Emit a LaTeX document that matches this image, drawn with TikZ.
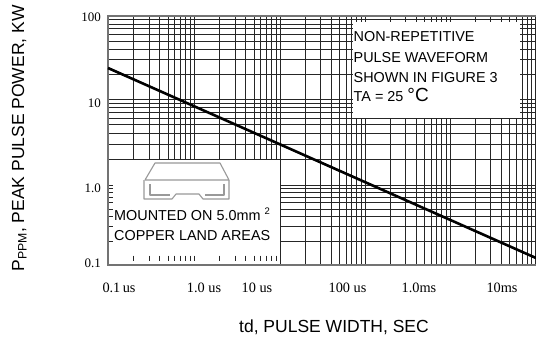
\documentclass[tikz,border=0pt]{standalone}
\usepackage{fontspec}
\setmainfont{Liberation Serif}
\newfontfamily\arialfont{Liberation Sans}
\tikzset{
  gridline/.style={black!85,line width=0.85pt},
  frameline/.style={black!55,line width=1.3pt},
  curveline/.style={black,line width=2.6pt},
  chip/.style={black!40,line width=1.1pt,line join=round},
  ticklabel/.style={font=\fontsize{13}{13}\selectfont,text=black,inner sep=0pt,anchor=east},
  xticklabel/.style={font=\fontsize{14.3}{14.3}\selectfont,text=black,inner sep=0pt,anchor=base},
  notetext/.style={font=\arialfont\fontsize{14.4}{14.4}\selectfont,text=black,inner sep=0pt,anchor=base west},
  axistitle/.style={font=\arialfont\fontsize{17.5}{17.5}\selectfont,text=black,inner sep=0pt,anchor=base}
}
\begin{document}
\begin{tikzpicture}[x=1pt,y=-1pt]
\useasboundingbox (0,0) rectangle (536,338);
\foreach \l/\r in {108/194,194/280,280/365,365/450,450/535.5}
  \foreach \m in {2,...,10}
    \draw[gridline] ({\l+(\r-\l)*ln(\m)/ln(10)},16) -- ({\l+(\r-\l)*ln(\m)/ln(10)},265);
\foreach \t/\b in {16/99,99/185,185/265}
  \foreach \m in {1,...,9}
    \draw[gridline] (108,{\b-(\b-\t)*ln(\m)/ln(10)}) -- (535.5,{\b-(\b-\t)*ln(\m)/ln(10)});
\fill[white] (353,22) rectangle (519.5,117.5);
\fill[white] (108.6,159.6) rectangle (279.6,264.4);
\foreach \m in {2,...,10}
  \draw[gridline] (108,{265-80*ln(\m)/ln(10)}) -- (113,{265-80*ln(\m)/ln(10)});
\foreach \l/\r in {108/194,194/280}
  \foreach \m in {2,...,9}
    \draw[gridline] ({\l+(\r-\l)*ln(\m)/ln(10)},255.5) -- ({\l+(\r-\l)*ln(\m)/ln(10)},260.5);
\draw[gridline] (194,255.5) -- (194,260.5);
\draw[frameline] (535.5,16) -- (108,16) -- (108,265) -- (535.5,265);
\coordinate (pstart) at (108,68);
\coordinate (pend) at (536,258);
\draw[curveline] (pstart) -- (pend);
\draw[chip] (145,180) -- (155,163) -- (220,163) -- (229,180) -- cycle;
\draw[chip] (144,180) -- (144,199) -- (172,199) -- (176,194) -- (199,194) -- (203,199) -- (229,199) -- (229,180);
\draw[chip] (150,184) -- (150,195) -- (170,195);
\draw[chip] (224,184) -- (224,195) -- (205,195);
\node[ticklabel] (y100) at (101,17) {100};
\node[ticklabel] (y10) at (101,103) {10};
\node[ticklabel] (y1) at (101,188) {1.0};
\node[ticklabel] (y01) at (101,263) {0.1};
\node[xticklabel] (x01us) at (119,292) {0.1\,us};
\node[xticklabel] (x1us) at (204,292) {1.0 us};
\node[xticklabel] (x10us) at (257,292) {10 us};
\node[xticklabel] (x100us) at (347.5,292) {100 us};
\node[xticklabel] (x1ms) at (419,292) {1.0ms};
\node[xticklabel] (x10ms) at (502,292) {10ms};
\node[notetext] (wave1) at (353.5,41) {NON-REPETITIVE};
\node[notetext] (wave2) at (353.5,62) {PULSE WAVEFORM};
\node[notetext] (wave3) at (353.5,82) {SHOWN IN FIGURE 3};
\node[notetext] (wave4) at (353.5,101) {TA = 25 {\fontsize{19}{19}\selectfont °C}};
\node[notetext] (mount1) at (114,220) {MOUNTED ON 5.0mm {\raisebox{6pt}{\fontsize{9.5}{9.5}\selectfont 2}}};
\node[notetext] (mount2) at (114,240) {COPPER LAND AREAS};
\node[axistitle] (xtitle) at (334,332) {td, PULSE WIDTH, SEC};
\node[axistitle,rotate=90] (ytitle) at (24,138.5) {P\textsubscript{PPM}, PEAK PULSE POWER, KW};
\end{tikzpicture}
\end{document}
